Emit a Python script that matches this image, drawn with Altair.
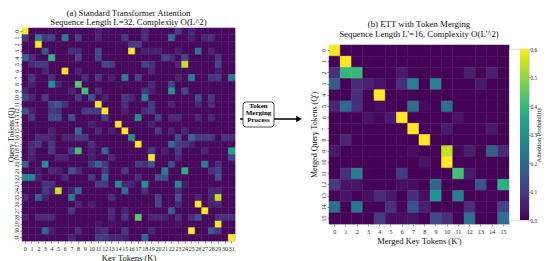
import altair as alt
import pandas as pd

FONT = "Liberation Serif"
BG_LEFT = 0.012
BG_RIGHT = 0.003

rows_a = [
    {0:.6,11:.05,18:.07,23:.1,25:.06},
    {0:.1,2:.25,3:.1,4:.12,6:.25,8:.12,11:.06,15:.1,18:.08,22:.22,25:.05,27:.06,28:.08},
    {2:.6,16:.1,17:.1},
    {3:.15,7:.08,8:.07,11:.13,16:.6,18:.05,19:.05,20:.05,23:.05,26:.22,28:.06},
    {0:.2,1:.08,4:.4,8:.12,11:.12,21:.12,22:.08,24:.12,29:.1},
    {1:.07,2:.1,3:.1,12:.12,13:.1,18:.12,19:.08,23:.06,24:.55,29:.12},
    {3:.06,6:.6,8:.05,19:.07,29:.05},
    {1:.1,4:.08,9:.08,11:.1,13:.05,15:.25,17:.12,23:.05,25:.25,28:.1,29:.1,31:.25},
    {1:.05,4:.3,5:.05,8:.45,19:.07,22:.12},
    {0:.06,7:.06,9:.42,11:.08,18:.1,19:.05,22:.32,24:.12},
    {0:.12,1:.06,3:.1,8:.1,10:.15,12:.05,15:.1,16:.06,18:.28,26:.14,28:.1},
    {4:.12,5:.15,6:.08,11:.6,15:.08,19:.1,22:.06,26:.06,28:.07},
    {0:.15,1:.05,4:.1,5:.08,9:.1,10:.1,11:.1,12:.6,15:.05,18:.07,19:.1},
    {1:.1,4:.13,5:.13,7:.15,12:.12,17:.3,20:.12,22:.07,23:.07,26:.06,28:.07},
    {14:.6,10:.05,19:.05},
    {4:.05,8:.2,11:.07,13:.05,15:.6,20:.1,22:.06,24:.06},
    {2:.07,3:.07,4:.05,6:.06,7:.06,8:.1,9:.1,16:.3,23:.14,25:.2,26:.1,27:.1,28:.1,30:.09,31:.07},
    {1:.07,2:.1,4:.1,10:.07,17:.6,22:.2,23:.1,24:.08,25:.05},
    {1:.07,4:.1,7:.1,8:.42,10:.05,12:.2,19:.1,21:.05,23:.1,27:.06,31:.35},
    {1:.05,5:.06,6:.06,10:.05,13:.07,19:.6,23:.07,31:.12},
    {0:.18,3:.3,10:.1,11:.2,12:.1,17:.1,18:.08,19:.15,22:.14,27:.25,29:.07},
    {2:.04,4:.06,5:.05,7:.15,8:.08,12:.1,15:.1,21:.25,24:.38,28:.08,29:.12},
    {0:.28,1:.28,2:.05,6:.07,10:.1,12:.2,17:.08,20:.14,21:.14,29:.14},
    {3:.08,4:.08,11:.1,12:.1,14:.3,15:.06,16:.05,18:.3,23:.28,24:.04},
    {3:.1,4:.05,5:.55,7:.05,8:.2,15:.22,18:.08,23:.08,28:.06,29:.06},
    {0:.06,2:.18,3:.05,7:.25,13:.08,20:.12,23:.14,26:.05,28:.06,29:.55},
    {8:.06,10:.05,20:.12,23:.06,26:.6,28:.05,29:.06},
    {7:.1,13:.07,15:.06,22:.18,27:.6},
    {0:.05,2:.07,3:.07,4:.07,13:.06,15:.1,17:.45,19:.06,20:.06,21:.05,23:.08,25:.08,26:.14,29:.08,30:.08,31:.08},
    {11:.03,13:.03,23:.03,29:.6},
    {3:.2,4:.05,8:.07,11:.06,12:.08,15:.1,19:.06,25:.6,28:.18,29:.1},
    {7:.06,11:.1,12:.1,13:.06,14:.06,15:.05,18:.2,31:.6},
]

rows_b = [
    {0:.6},
    {1:.6},
    {0:.08,1:.4,2:.4,6:.04,12:.05,14:.05},
    {0:.17,2:.07,3:.05,4:.03,6:.08,7:.25,9:.27,13:.04},
    {2:.08,4:.6},
    {0:.06,1:.2,2:.08,4:.02,7:.22,8:.015,10:.22},
    {3:.03,4:.01,5:.04,6:.6,11:.03},
    {7:.6,10:.04,14:.04},
    {1:.06,8:.6},
    {0:.04,7:.02,10:.55,11:.01,12:.05,14:.18,15:.07},
    {8:.03,10:.6},
    {1:.08,2:.25,6:.1,11:.42,12:.04},
    {0:.1,1:.03,2:.03,6:.02,7:.02,9:.2,13:.15,15:.38},
    {1:.03,3:.02,4:.08,5:.04,7:.08,8:.02,9:.32,11:.25,14:.01},
    {0:.22,2:.24,5:.08,7:.15,8:.05,12:.08,15:.12},
    {4:.1,5:.02,6:.02,7:.03,9:.13,10:.08,12:.22,15:.22},
]

title_a = ["(a) Standard Transformer Attention", "Sequence Length L=32, Complexity O(L^2)"]
title_b = ["(b) ETT with Token Merging", "Sequence Length L'=16, Complexity O(L'^2)"]
legend_ticks = [0.0, 0.1, 0.2, 0.3, 0.4, 0.5, 0.6]
viridis = ["#440154", "#482475", "#414487", "#355f8d", "#2a788e", "#21918c",
           "#22a884", "#44bf70", "#7ad151", "#bddf26", "#fde725"]

box_x, box_x2, box_y, box_y2 = [8], [39], [74], [99]
arrow_x, arrow_x2, arrow_y = [5], [63], [91]
head_x = [64]
box_text = ["Token", "Merging", "Process"]
box_text_y = [78, 85, 92]
box_text_x = [23.5, 23.5, 23.5]

bar_x, bar_x2, bar_lo, bar_hi = [11], [20], [0], [0.6]


def table(rows, bg):
    n = len(rows)
    return pd.DataFrame(
        [{"q": r, "k": c, "v": rows[r].get(c, bg)} for r in range(n) for c in range(n)]
    )


def heat(rows, bg, title, w, h, xtitle, ytitle, title_pad, title_x, title_size):
    cscale = alt.Scale(scheme="viridis", domain=[0, 0.6])
    return (
        alt.Chart(table(rows, bg))
        .mark_rect(strokeWidth=0.5)
        .encode(
            x=alt.X("k:O", scale=alt.Scale(paddingInner=0, paddingOuter=0),
                    axis=alt.Axis(title=xtitle, labelAngle=0, domain=False, tickSize=2,
                                  tickColor="#444444", tickWidth=0.6, labelFont=FONT, labelFontSize=6,
                                  labelPadding=2, labelColor="#222222", titleFont=FONT,
                                  titleFontSize=8.5, titleFontWeight="normal", titlePadding=2,
                                  titleColor="#111111")),
            y=alt.Y("q:O", scale=alt.Scale(paddingInner=0, paddingOuter=0),
                    axis=alt.Axis(title=ytitle, labelAngle=270, domain=False, tickSize=2,
                                  tickColor="#444444", tickWidth=0.6, labelFont=FONT, labelFontSize=6,
                                  labelPadding=0.5, labelAlign="center", labelBaseline="bottom",
                                  labelColor="#222222", titleFont=FONT, titleFontSize=title_size,
                                  titleFontWeight="normal", titleX=title_x, titleColor="#111111")),
            color=alt.Color("v:Q", scale=cscale, legend=None),
            stroke=alt.Color("v:Q", scale=cscale, legend=None),
        )
        .properties(
            width=w, height=h,
            title=alt.TitleParams(text=title, font=FONT, fontSize=8.8, fontWeight="normal",
                                  lineHeight=9.5, offset=title_pad, color="#111111", anchor="middle"),
        )
    )


left = heat(rows_a, BG_LEFT, title_a, 213, 213, "Key Tokens (K)", "Query Tokens (Q)", 0.5, -6.5, 7.5)
right = heat(rows_b, BG_RIGHT, title_b, 180, 179, "Merged Key Tokens (K')", "Merged Query Tokens (Q')", 6, -11, 8)

mx = alt.X("x:Q", scale=alt.Scale(domain=[0, 94]), axis=None)
my = alt.Y("y:Q", scale=alt.Scale(domain=[213, 0]), axis=None)
arrow = alt.Chart(pd.DataFrame({"x": arrow_x, "x2": arrow_x2, "y": arrow_y})).mark_rule(
    color="black", strokeWidth=1.6).encode(x=mx, x2="x2:Q", y=my)
head = alt.Chart(pd.DataFrame({"x": head_x, "y": arrow_y})).mark_point(
    shape="triangle-right", filled=True, color="black", opacity=1, size=42).encode(x=mx, y=my)
box = alt.Chart(pd.DataFrame({"x": box_x, "x2": box_x2, "y": box_y, "y2": box_y2})).mark_rect(
    fill="white", stroke="#222222", strokeWidth=0.8, cornerRadius=3).encode(x=mx, x2="x2:Q", y=my, y2="y2:Q")
label = alt.Chart(pd.DataFrame({"x": box_text_x, "y": box_text_y, "t": box_text})).mark_text(
    font=FONT, fontSize=7, fontWeight="bold", color="black", align="center", baseline="middle"
).encode(x=mx, y=my, text="t:N")
middle = (arrow + head + box + label).properties(
    width=94, height=213, view=alt.ViewBackground(stroke="transparent", strokeWidth=0))

gradient = alt.Gradient(
    gradient="linear", x1=0, y1=1, x2=0, y2=0,
    stops=[alt.GradientStop(offset=i / (len(viridis) - 1), color=c) for i, c in enumerate(viridis)],
)
colorbar = (
    alt.Chart(pd.DataFrame({"x": bar_x, "x2": bar_x2, "lo": bar_lo, "hi": bar_hi}))
    .mark_rect(fill=gradient)
    .encode(
        x=alt.X("x:Q", scale=alt.Scale(domain=[0, 20]), axis=None),
        x2="x2:Q",
        y=alt.Y("lo:Q", scale=alt.Scale(domain=[0, 0.6]),
                axis=alt.Axis(orient="right", values=legend_ticks, format=".1f", title="Attention Probability",
                              domain=False, grid=False, tickSize=1, tickWidth=0.6, tickColor="#444444",
                              labelFont=FONT, labelFontSize=5.2, labelPadding=0, labelColor="#222222",
                              titleFont=FONT, titleFontSize=6.5, titleFontWeight="normal", titleAngle=270,
                              titleX=12.3, titleBaseline="bottom", titleColor="#111111")),
        y2="hi:Q",
    )
    .properties(width=20, height=171)
)

chart = (
    alt.hconcat(left, middle, right, colorbar, spacing=0, bounds="flush", center=True)
    .resolve_scale(color="independent", x="independent", y="independent", stroke="independent")
    .properties(autosize=alt.AutoSizeParams(type="none"),
                padding={"left": 14, "top": 20, "right": 520, "bottom": 233})
    .configure_view(stroke=None, strokeWidth=0)
    .configure(background="white")
)
chart.save("out.html", embed_options={"renderer": "svg", "actions": False})
